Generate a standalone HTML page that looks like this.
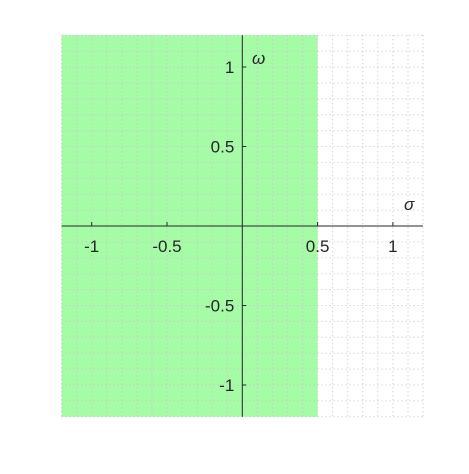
<!DOCTYPE html>
<html><head><meta charset="utf-8"><style>
body{margin:0;background:#fff}
svg text{font-family:"Liberation Sans",sans-serif;font-size:17px;fill:#262626}
</style></head><body>
<svg width="469" height="469">
<g id="g"></g>
</svg>
<script>
const xTicks=[-1,-0.5,0.5,1];
const xTickLabels=["-1","-0.5","0.5","1"];
const yTicks=[1,0.5,-0.5,-1];
const yTickLabels=["1","0.5","-0.5","-1"];
const region=[-1.2,0.5];
const xDomain=[-1.2,1.2], yDomain=[-1.2,1.2];
const X=v=>242.3+v*150.6, Y=v=>226-v*159;
const g=document.getElementById('g'), NS='http://www.w3.org/2000/svg';
function mk(t,a,txt){const e=document.createElementNS(NS,t);for(const k in a)e.setAttribute(k,a[k]);if(txt!=null)e.textContent=txt;g.appendChild(e);return e;}
let r=mk('rect',{x:X(region[0]),y:Y(yDomain[1]),width:X(region[1])-X(region[0]),height:Y(yDomain[0])-Y(yDomain[1]),fill:'#a6fba6'});


for(let i=-12;i<=12;i++){
 const v=i/10;
 let l=mk('line',{x1:X(v),x2:X(v),y1:Y(yDomain[1]),y2:Y(yDomain[0]),stroke:'#c8c0d0','stroke-width':1,'stroke-dasharray':'1,3'});
 
 
 let m=mk('line',{y1:Y(v),y2:Y(v),x1:X(xDomain[0]),x2:X(xDomain[1]),stroke:'#c8c0d0','stroke-width':1,'stroke-dasharray':'1,3'});
 
 
}
let ax=mk('line',{x1:X(xDomain[0]),x2:X(xDomain[1]),y1:Y(0),y2:Y(0),stroke:'#262626','stroke-width':1});


let ay=mk('line',{x1:X(0),x2:X(0),y1:Y(yDomain[1]),y2:Y(yDomain[0]),stroke:'#262626','stroke-width':1});


xTicks.forEach((v,i)=>{
 let t=mk('line',{x1:X(v),x2:X(v),y1:Y(0),y2:Y(0)-4,stroke:'#262626'});
 
 
 let s=mk('text',{x:X(v),y:Y(0)+26,'text-anchor':'middle'},xTickLabels[i]);
 
 
});
yTicks.forEach((v,i)=>{
 let t=mk('line',{x1:X(0),x2:X(0)+4,y1:Y(v),y2:Y(v),stroke:'#262626'});
 
 
 let s=mk('text',{x:X(0)-8,y:Y(v)+6,'text-anchor':'end'},yTickLabels[i]);
 
 
});
let w=mk('text',{x:252,y:64,'font-style':'italic','font-family':'Liberation Serif'},'ω');


let sg=mk('text',{x:404,y:210,'font-style':'italic','font-family':'Liberation Serif'},'σ');


</script>
</body></html>
